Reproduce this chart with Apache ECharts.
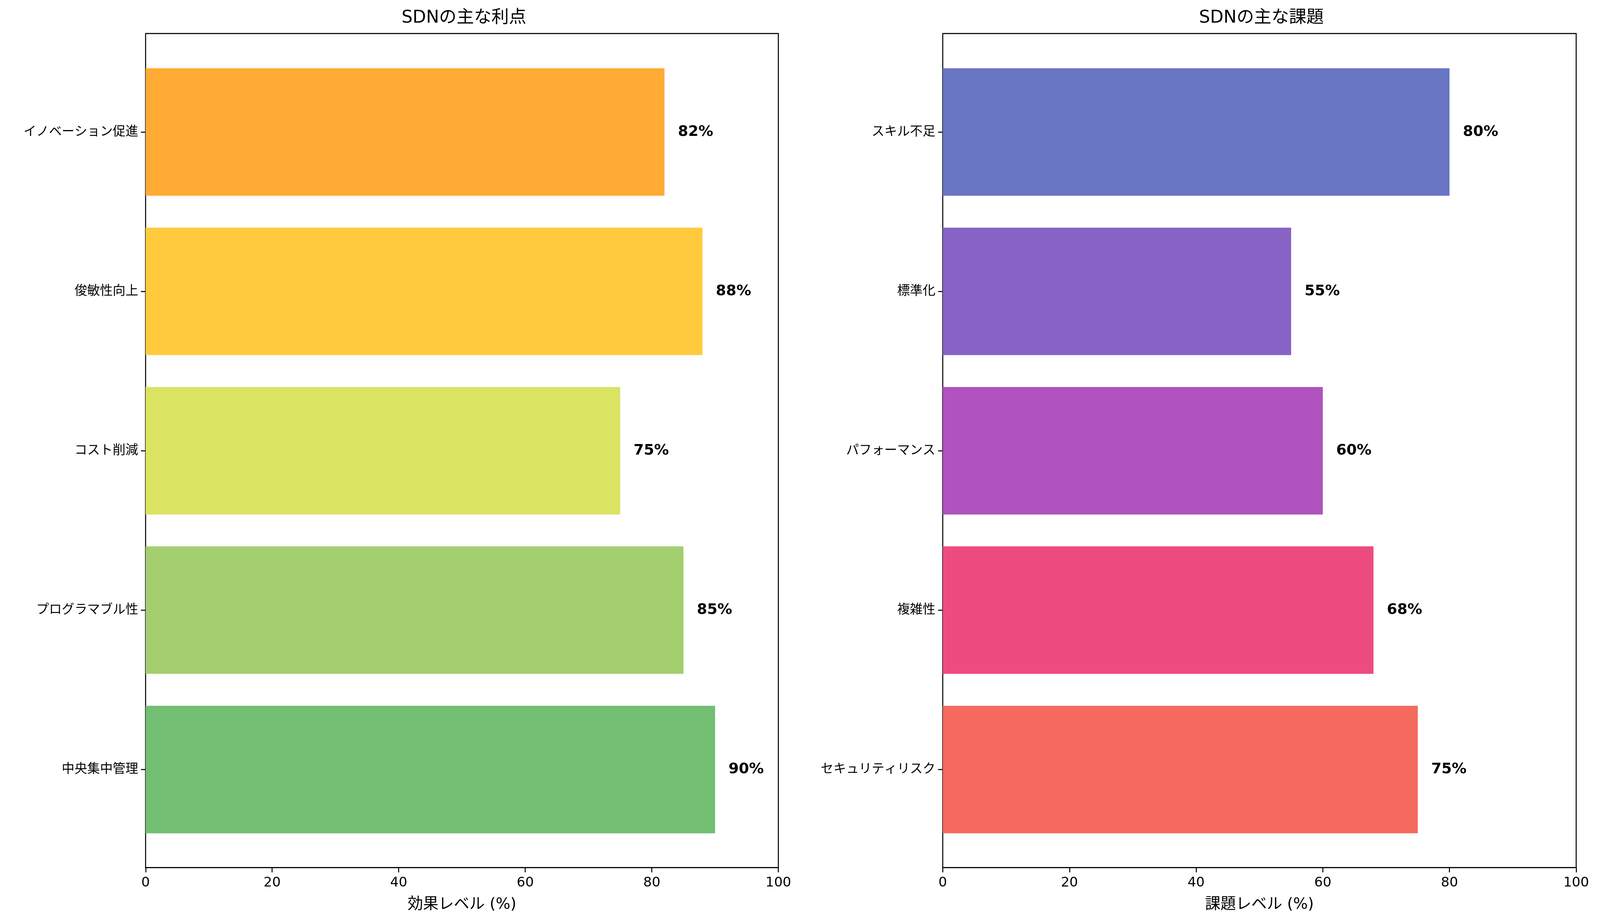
<!DOCTYPE html>
<html>
<head>
<meta charset="utf-8">
<script src="https://cdn.jsdelivr.net/npm/echarts@6/dist/echarts.min.js"></script>
<style>html,body{margin:0;padding:0;background:#fff;overflow:hidden}#main{width:100vw;height:100vh}</style>
</head>
<body>
<div id="main"></div>
<script>
var benefitNames = ['中央集中管理', 'プログラマブル性', 'コスト削減', '俊敏性向上', 'イノベーション促進'];
var benefitValues = [90, 85, 75, 88, 82];
var benefitColors = ['#72bf73', '#a3cf6f', '#dae362', '#ffcb3c', '#ffab34'];
var challengeNames = ['セキュリティリスク', '複雑性', 'パフォーマンス', '標準化', 'スキル不足'];
var challengeValues = [75, 68, 60, 55, 80];
var challengeColors = ['#f46a5f', '#ee4c80', '#b052bf', '#8663c5', '#6775c2'];
var xTicks = [0, 20, 40, 60, 80, 100];

var font = "'DejaVu Sans', 'Noto Sans CJK JP', sans-serif";
var el = document.getElementById('main');
var s = el.clientWidth / 4769; // design coordinates are in reference pixels
var chart = echarts.init(el);

var panels = [
    { left: 434, right: 4769 - 2320, title: 'SDNの主な利点', xname: '効果レベル (%)', names: benefitNames, values: benefitValues, colors: benefitColors },
    { left: 2810, right: 4769 - 4698, title: 'SDNの主な課題', xname: '課題レベル (%)', names: challengeNames, values: challengeValues, colors: challengeColors }
];

var option = { backgroundColor: '#fff', title: [], grid: [], xAxis: [], yAxis: [], series: [] };

panels.forEach(function (p, i) {
    var outer = i * 2, inner = i * 2 + 1;
    option.title.push({
        text: p.title, left: s * (p.left + (4769 - p.right)) / 2, top: s * 22, textAlign: 'center',
        textStyle: { fontFamily: font, fontSize: s * 52, fontWeight: 'normal', color: '#000' }
    });
    // outer frame grid with the visible x axis
    option.grid.push({ left: s * p.left, right: s * p.right, top: s * 100, bottom: s * 168, show: true, borderColor: '#000', borderWidth: s * 3, backgroundColor: 'transparent' });
    // inner grid holding the bars (matplotlib-style margins)
    option.grid.push({ left: s * p.left, right: s * p.right, top: s * 156, bottom: s * 223 });
    option.xAxis.push({
        gridIndex: outer, type: 'value', min: 0, max: 100, interval: 20,
        name: p.xname, nameLocation: 'middle', nameGap: s * 88,
        nameTextStyle: { fontFamily: font, fontSize: s * 46, color: '#000' },
        axisLine: { show: true, lineStyle: { color: '#000', width: s * 3 } },
        axisTick: { show: true, length: s * 14, lineStyle: { color: '#000', width: s * 3 } },
        axisLabel: { fontFamily: font, fontSize: s * 40, color: '#000', margin: s * 26,
            formatter: function (v) { return xTicks.indexOf(v) >= 0 ? String(v) : ''; } },
        splitLine: { show: false }
    });
    option.yAxis.push({ gridIndex: outer, type: 'value', show: false, min: 0, max: 1 });
    option.xAxis.push({ gridIndex: inner, type: 'value', min: 0, max: 100, show: false });
    option.yAxis.push({
        gridIndex: inner, type: 'category', data: p.names,
        axisLine: { show: false },
        axisTick: { show: true, alignWithLabel: true, length: s * 14, lineStyle: { color: '#000', width: s * 3 } },
        axisLabel: { fontFamily: font, fontSize: s * 38, color: '#000', margin: s * 22 }
    });
    option.series.push({
        type: 'bar', xAxisIndex: inner, yAxisIndex: inner, barWidth: '80%',
        data: p.values.map(function (v, k) { return { value: v, itemStyle: { color: p.colors[k] } }; }),
        label: { show: true, position: 'right', distance: s * 40, formatter: '{c}%',
            fontFamily: font, fontSize: s * 44, fontWeight: 'bold', color: '#000' }
    });
});

chart.setOption(option);
</script>
</body>
</html>
